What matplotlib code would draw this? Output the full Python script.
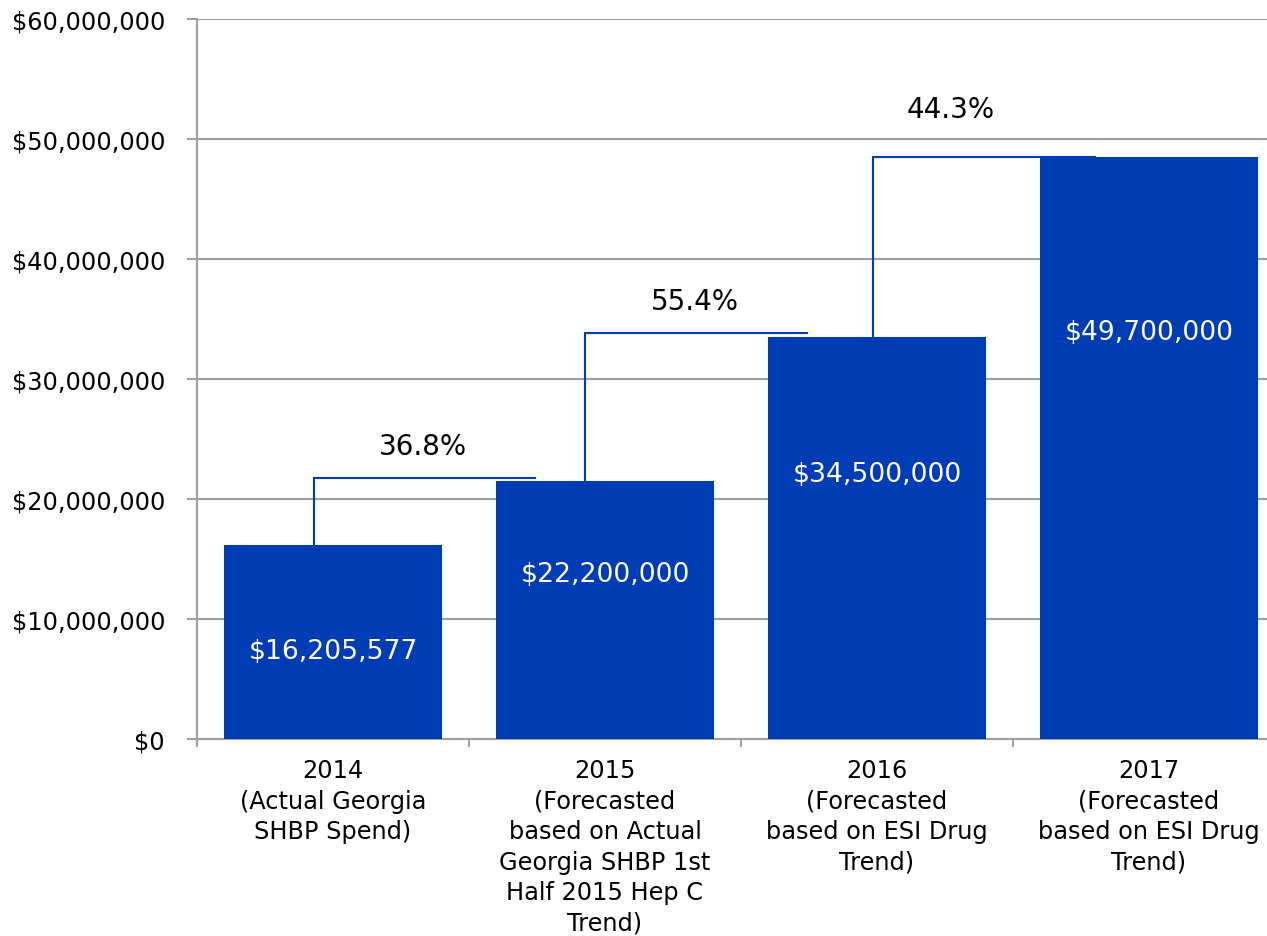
import matplotlib
matplotlib.use("Agg")
import matplotlib.pyplot as plt
from matplotlib.ticker import FuncFormatter

categories = [
    "2014\n(Actual Georgia\nSHBP Spend)",
    "2015\n(Forecasted\nbased on Actual\nGeorgia SHBP 1st\nHalf 2015 Hep C\nTrend)",
    "2016\n(Forecasted\nbased on ESI Drug\nTrend)",
    "2017\n(Forecasted\nbased on ESI Drug\nTrend)",
]
bar_values = [16205577, 21500000, 33500000, 48500000]
bar_labels = ["$16,205,577", "$22,200,000", "$34,500,000", "$49,700,000"]
label_frac = [0.45, 0.64, 0.66, 0.70]
pct_labels = ["36.8%", "55.4%", "44.3%"]
connector_y = [21750000, 33800000, 48500000]

BLUE = "#003DB4"
GRID = "#a0a0a0"
FONT = "DejaVu Sans"

fig = plt.figure(figsize=(12.67, 9.37), dpi=100)
ax = fig.add_axes([197/1267, 1-740/937, 1088/1267, 720/937])

x = list(range(len(categories)))
ax.bar(x, bar_values, width=0.8, color=BLUE, zorder=3)

ax.set_xlim(-0.5, 3.5)
ax.set_ylim(0, 60000000)
ax.set_yticks(range(0, 60000001, 10000000))
ax.yaxis.set_major_formatter(FuncFormatter(lambda v, p: "${:,.0f}".format(v)))
ax.grid(axis="y", color=GRID, linewidth=1.5, zorder=0)
ax.set_axisbelow(True)

for s in ["top", "right"]:
    ax.spines[s].set_visible(False)
for s in ["left", "bottom"]:
    ax.spines[s].set_color(GRID)
    ax.spines[s].set_linewidth(1.5)

ax.set_xticks([i - 0.5 for i in x] + [3.5])
ax.set_xticklabels([])
ax.set_xticks(x, minor=True)
ax.set_xticklabels(categories, minor=True, fontsize=17.3, family=FONT, linespacing=1.34, va="top")
ax.tick_params(axis="x", which="minor", length=0, pad=14)
ax.tick_params(axis="x", which="major", length=6, width=1.5, color=GRID)
ax.tick_params(axis="y", length=7, width=1.5, color=GRID, labelsize=17.3, pad=16)
for t in ax.get_yticklabels():
    t.set_family(FONT)

# value labels in bars
for i, (v, lab, f) in enumerate(zip(bar_values, bar_labels, label_frac)):
    ax.text(i, v * f, lab, color="white", ha="center", va="center",
            fontsize=19.2, family=FONT, zorder=5)

# connectors
starts = [-0.07, -0.074, -0.015]
ends = [0.743, 0.743, 0.80]
pct_x = [0.33, 0.33, 0.27]
pct_off = [2700000, 2700000, 4000000]
for i in range(3):
    x0 = i + starts[i]
    x1 = i + ends[i]
    y0 = bar_values[i]
    yc = connector_y[i]
    ax.plot([x0, x0, x1], [y0, yc, yc], color=BLUE, linewidth=1.5, zorder=4,
            solid_joinstyle="miter")
    ax.text(i + pct_x[i], yc + pct_off[i], pct_labels[i], ha="center", va="center",
            fontsize=20, family=FONT, color="black", zorder=5)

fig.savefig("out.png", dpi=100)
